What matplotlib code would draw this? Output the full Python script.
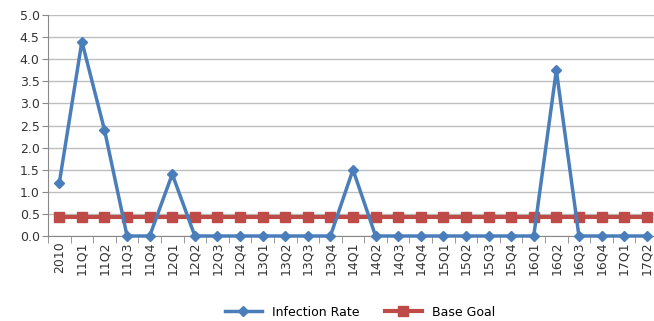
import numpy as np
import matplotlib.pyplot as plt

quarters = ['2010', '11Q1', '11Q2', '11Q3', '11Q4', '12Q1', '12Q2', '12Q3', '12Q4',
            '13Q1', '13Q2', '13Q3', '13Q4', '14Q1', '14Q2', '14Q3', '14Q4',
            '15Q1', '15Q2', '15Q3', '15Q4', '16Q1', '16Q2', '16Q3', '16Q4',
            '17Q1', '17Q2']
infection_rate = [1.2, 4.4, 2.4, 0, 0, 1.4, 0, 0, 0, 0, 0, 0, 0, 1.5, 0, 0, 0,
                  0, 0, 0, 0, 0, 3.75, 0, 0, 0, 0]
base_goal = [0.42] * len(quarters)

fig = plt.figure(figsize=(6.54, 3.21), dpi=100)
ax = fig.add_axes([48/654, 85/321, 610/654, 221/321])

x = np.arange(len(quarters))
ax.plot(x, base_goal, color='#BE4B48', lw=3, marker='s', ms=7, label='Base Goal', zorder=2)
ax.plot(x, infection_rate, color='#4A7EBB', lw=2.5, marker='D', ms=5.5, label='Infection Rate',
        zorder=3, clip_on=False)

ax.set_xlim(-0.5, len(quarters) - 0.5)
ax.set_ylim(0, 5)
ax.set_yticks(np.arange(0, 5.01, 0.5))
ax.set_yticklabels(['%.1f' % v for v in np.arange(0, 5.01, 0.5)], fontsize=9, color='#333333')
ax.yaxis.grid(True, color='#BFBFBF', lw=1)
ax.set_axisbelow(True)
ax.tick_params(axis='y', length=4, color='#888888', pad=2)

ax.set_xticks(x)
ax.set_xticklabels(quarters, rotation=90, fontsize=9, color='#333333')
ax.tick_params(axis='x', length=0, pad=4)
ax.set_xticks(np.arange(-0.5, len(quarters), 1), minor=True)
ax.tick_params(axis='x', which='minor', length=5, color='#888888')

for s in ['top', 'right']:
    ax.spines[s].set_visible(False)
ax.spines['left'].set_color('#888888')
ax.spines['bottom'].set_color('#888888')

h, l = ax.get_legend_handles_labels()
fig.legend(h[::-1], l[::-1], loc='center', bbox_to_anchor=(360/654, 1 - 312/321),
           ncol=2, frameon=False, fontsize=9, handlelength=3, columnspacing=2)

plt.savefig('out.png', dpi=100)
